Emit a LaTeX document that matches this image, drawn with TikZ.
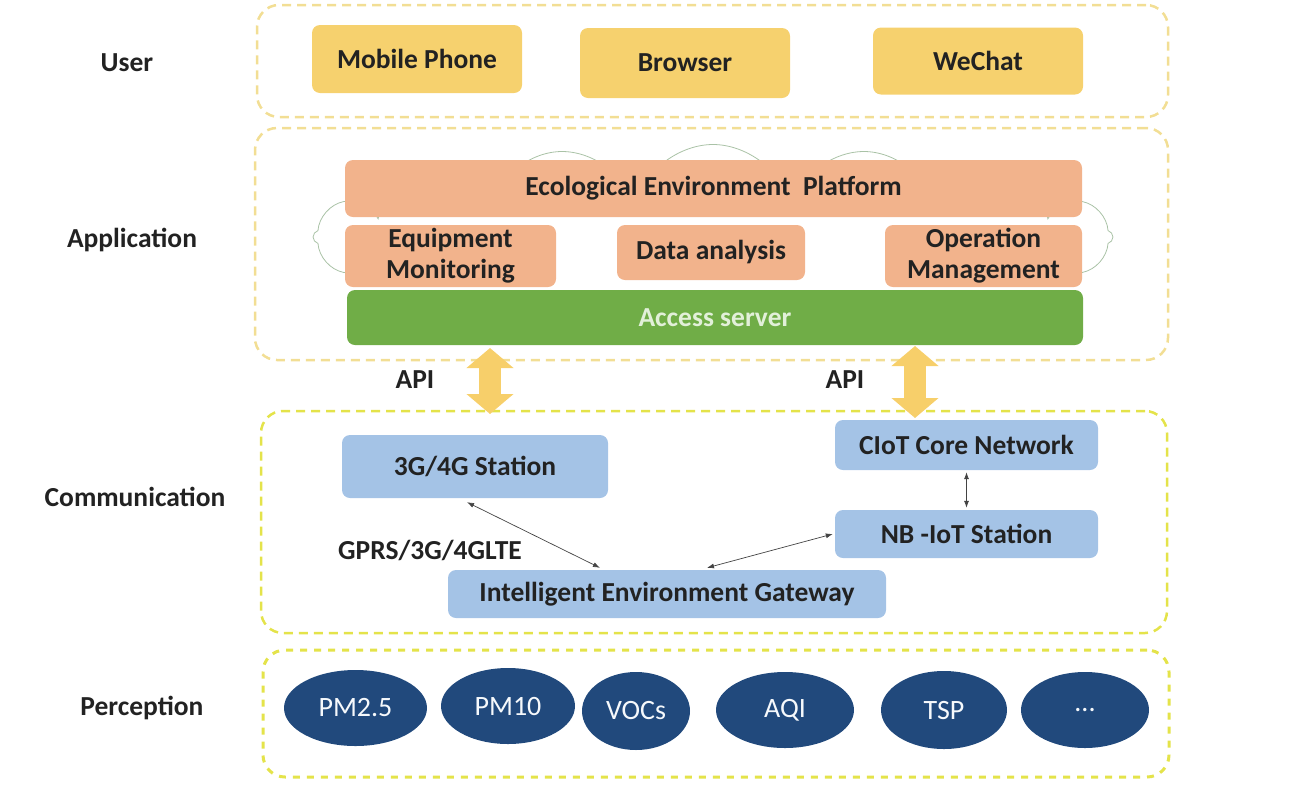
\documentclass[tikz,border=0pt]{standalone}
\usepackage{fontspec}
\setmainfont{Carlito}
\usetikzlibrary{shapes.geometric,shapes.symbols,arrows.meta,calc}
\definecolor{useryel}{HTML}{F6D16E}
\definecolor{salmon}{HTML}{F2B38C}
\definecolor{srvgreen}{HTML}{70AD47}
\definecolor{srvtext}{HTML}{E2F0D9}
\definecolor{ltblue}{HTML}{A4C3E6}
\definecolor{dkblue}{HTML}{21497C}
\definecolor{dashA}{HTML}{F2DE94}
\definecolor{dashB}{HTML}{E4E34A}
\definecolor{apiyel}{HTML}{F7CF6A}
\definecolor{cloudc}{HTML}{A9C2A6}
\definecolor{txt}{HTML}{222222}
\begin{document}
\begin{tikzpicture}[x=1pt,y=-1pt,
  laylabel/.style={font=\fontsize{27.5}{31}\selectfont\bfseries,text=txt},
  box/.style={rounded corners=8pt,inner sep=0pt,align=center,font=\fontsize{27.5}{31}\selectfont\bfseries,text=txt},
  ubox/.style={box,fill=useryel},
  abox/.style={box,fill=salmon},
  cbox/.style={box,fill=ltblue},
  sensor/.style={ellipse,fill=dkblue,inner sep=0pt,text=white!90!ltblue,font=\fontsize{28}{30}\selectfont},
  thinarr/.style={{Latex[length=7pt,width=5pt]}-{Latex[length=7pt,width=5pt]},line width=0.7pt,draw=txt!85},
  apiarr/.style={line width=22pt,draw=apiyel,{Triangle[length=20pt,width=46pt]}-{Triangle[length=20pt,width=46pt]}}
]
\useasboundingbox (0,0) rectangle (1290,804);

% layer frames
\node[draw=dashA,line width=2.5pt,dash pattern=on 9pt off 6pt,rounded corners=22pt,minimum width=911pt,minimum height=112pt] (luser) at (712.5,61) {};
\node[draw=dashA,line width=2.5pt,dash pattern=on 9pt off 6pt,rounded corners=22pt,minimum width=913pt,minimum height=232pt] (lapp) at (711.5,244) {};
\node[draw=dashB,line width=2.5pt,dash pattern=on 9pt off 6pt,rounded corners=22pt,minimum width=906pt,minimum height=222pt] (lcomm) at (714,522) {};
\node[draw=dashB,line width=3pt,dash pattern=on 7pt off 7pt,rounded corners=22pt,minimum width=906pt,minimum height=127pt] (lperc) at (716,713.5) {};

% layer labels
\node[laylabel] (tuser) at (127,63) {User};
\node[laylabel] (tapp) at (132,240) {Application};
\node[laylabel] (tcomm) at (135,497) {Communication};
\node[laylabel] (tperc) at (142,708) {Perception};

% user layer
\node[ubox,minimum width=210pt,minimum height=68pt] (mobile) at (417,59) {Mobile Phone};
\node[ubox,minimum width=210pt,minimum height=70pt] (browser) at (685,63) {Browser};
\node[ubox,minimum width=210pt,minimum height=67pt] (wechat) at (978,61) {WeChat};

% application layer: faint cloud behind the platform
\begin{scope}
  \clip (0,0) rectangle (1290,222) (0,222) rectangle (345,400) (1082,222) rectangle (1290,400);
  \node[cloud,cloud puffs=16,cloud ignores aspect,draw=cloudc,line width=0.8pt,minimum width=800pt,minimum height=185pt] (cloudbg) at (713,237) {};
\end{scope}
\node[abox,minimum width=737pt,minimum height=57pt] (eco) at (713.5,188.5) {Ecological Environment\ \ Platform};
\node[abox,minimum width=211pt,minimum height=62pt] (equip) at (450.5,256) {Equipment\\Monitoring};
\node[abox,minimum width=188pt,minimum height=55pt] (data) at (711,252.5) {Data analysis};
\node[abox,minimum width=197pt,minimum height=62pt] (oper) at (983.5,256) {Operation\\Management};
\node[box,fill=srvgreen,text=srvtext,minimum width=736pt,minimum height=55pt] (access) at (715,317.5) {Access server};

% API arrows
\coordinate (api1a) at (490,348);
\coordinate (api1b) at (490,414);
\coordinate (api2a) at (915,346);
\coordinate (api2b) at (915,418);
\draw[apiarr] (api1a) -- (api1b);
\draw[apiarr] (api2a) -- (api2b);
\node[laylabel] (apil) at (415,380) {API};
\node[laylabel] (apir) at (845,380) {API};

% communication layer
\node[cbox,minimum width=266pt,minimum height=63pt] (g34) at (475,466.5) {3G/4G Station};
\node[cbox,minimum width=263pt,minimum height=50pt] (ciot) at (966.5,445) {CIoT Core Network};
\node[cbox,minimum width=263pt,minimum height=48pt] (nb) at (966.5,534) {NB -IoT Station};
\node[cbox,minimum width=438pt,minimum height=48pt] (gw) at (667,594) {Intelligent Environment Gateway};
\node[laylabel] (gprs) at (430,550) {GPRS/3G/4GLTE};

\draw[thinarr] ([shift={(-8,4)}]g34.south) -- ([shift={(-67,-2)}]gw.north);
\draw[thinarr] ([shift={(-2,0)}]nb.west) -- ([shift={(40,-2)}]gw.north);
\draw[thinarr] ([yshift=-2pt]ciot.south) -- ([yshift=2pt]nb.north);

% perception layer
\node[sensor,minimum width=143pt,minimum height=76pt] (pm25) at (355.5,708) {PM2.5};
\node[sensor,minimum width=134pt,minimum height=76pt] (pm10) at (508,706) {PM10};
\node[sensor,minimum width=108pt,minimum height=78pt] (vocs) at (636,711) {VOCs};
\node[sensor,minimum width=138pt,minimum height=76pt] (aqi) at (785,710) {AQI};
\node[sensor,minimum width=126pt,minimum height=78pt] (tsp) at (944,710) {TSP};
\node[sensor,minimum width=128pt,minimum height=76pt] (more) at (1085,710) {...};
\end{tikzpicture}
\end{document}
